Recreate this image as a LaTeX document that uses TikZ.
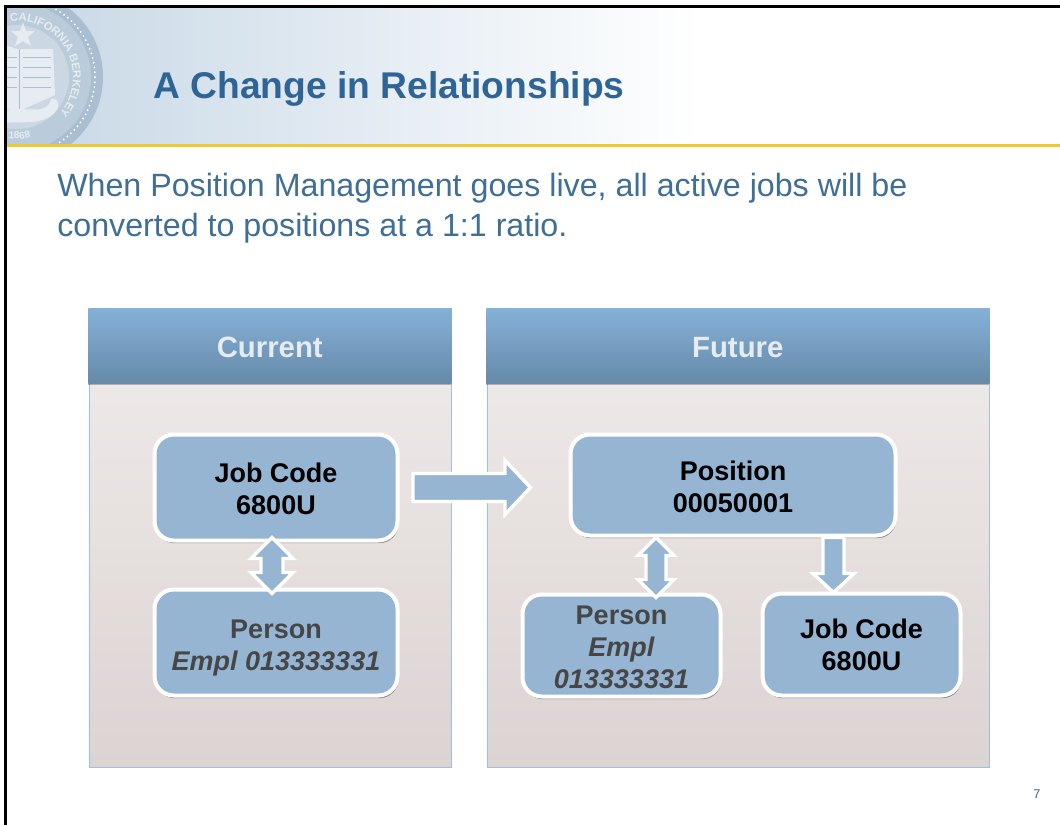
\documentclass[tikz,border=0pt]{standalone}
\usepackage{fontspec}
\setmainfont{Liberation Sans}
\usetikzlibrary{calc,shadows,decorations.text}
\definecolor{titleblue}{HTML}{2F6496}
\definecolor{bodyblue}{HTML}{3F6E96}
\definecolor{boxblue}{HTML}{95B5D3}
\definecolor{rule}{HTML}{F0C92E}
\definecolor{panelline}{HTML}{9CC0DD}
\definecolor{greytext}{HTML}{464646}
\definecolor{sealring}{HTML}{A9BED0}
\definecolor{sealpale}{HTML}{E6ECF2}
\definecolor{HeadTop}{HTML}{85B1D8}
\definecolor{HeadBot}{HTML}{668AA8}
\definecolor{PanelTop}{HTML}{F0EDEB}
\definecolor{PanelBot}{HTML}{DCD3D3}
\definecolor{HeaderL}{HTML}{C6D7E5}
\tikzset{
  panelhead/.style={rectangle,anchor=north west,inner sep=0pt,top color=HeadTop,bottom color=HeadBot,draw=none,
    font=\fontsize{22}{26}\selectfont\bfseries,text=sealpale,
    drop shadow={shadow xshift=0pt,shadow yshift=-1.2pt,fill=black,opacity=.25}},
  panelbody/.style={rectangle,anchor=north west,inner sep=0pt,top color=PanelTop,bottom color=PanelBot,draw=panelline,line width=.6pt},
  infobox/.style={rectangle,rounded corners=14.5pt,fill=boxblue,draw=white,line width=3pt,inner sep=0pt,align=center,
    font=\fontsize{20.25}{24}\selectfont\bfseries,
    drop shadow={shadow xshift=.8pt,shadow yshift=-2pt,fill=black,opacity=.4}},
  blockarrow/.style={fill=boxblue,draw=white,line width=2.6pt,miter limit=10,line join=miter},
}
\begin{document}
\begin{tikzpicture}[x=.75pt,y=-.75pt]
\useasboundingbox (0,0) rectangle (1060,825);
\fill[white] (0,0) rectangle (1060,825);
% banner
\shade[left color=HeaderL,right color=white] (7,8) rectangle (700,143);
% seal
\begin{scope}
\clip (7,8) rectangle (140,143);
\begin{scope}[shift={(17,77)},x=.75pt,y=.75pt]
  \fill[sealring] (0,0) circle (86);
  \fill[sealring!80!white] (0,0) circle (74);
  \draw[white,line width=1.6pt,line cap=round,dash pattern=on 0pt off 3.6pt] (0,0) circle (78);
  \fill[sealring!60!white] (0,0) circle (52);
  \path[decorate,decoration={text along path,text align=left,text color=sealpale,
     text={|\fontsize{8.5}{9}\selectfont\bfseries|CALIFORNIA\ BERKELEY}}] (97:56) arc (97:-50:56);
  \path[decorate,decoration={text along path,text align=left,text color=sealpale,
     text={|\fontsize{7.5}{8}\selectfont\bfseries|1868}}] (-98:62) arc (-98:-68:62);
  \fill[sealpale] (-12,32) -- (0,28) -- (36,28) -- (38,-18) -- (2,-34) -- (-12,-32) -- cycle;
  \draw[sealring,line width=.4pt] (2,28) -- (2,-32) (-10,20) -- (0,20) (-10,10) -- (0,10) (-10,0) -- (0,0) (-10,-10) -- (0,-10)
    (6,20) -- (34,20) (6,10) -- (34,10) (6,0) -- (34,0) (6,-10) -- (34,-10);
  \fill[sealpale] (6,55) -- (9,46) -- (18,46) -- (11,40) -- (14,31) -- (6,36) -- (-2,31) -- (1,40) -- (-6,46) -- (3,46) -- cycle;
  \fill[sealpale] (-12,-34) .. controls (10,-28) and (30,-40) .. (34,-22) .. controls (44,-20) and (44,-34) .. (32,-40) .. controls (20,-48) and (0,-44) .. (-12,-46) -- cycle;
\end{scope}
\end{scope}
% frame and rule
\fill[rule] (7,143.5) rectangle (1060,146.5);
\draw[black,line width=1.6pt] (5.5,825) -- (5.5,6.5) -- (1060,6.5);
% title and body text
\node[anchor=base west,inner sep=0pt,text=titleblue,font=\fontsize{27.9}{32}\selectfont\bfseries] (title) at (153,98) {A Change in Relationships};
\node[anchor=base west,inner sep=0pt,text=bodyblue,font=\fontsize{24.15}{30}\selectfont,align=left] (intro) at (57,236)
  {When Position Management goes live, all active jobs will be\\converted to positions at a 1:1 ratio.};
% panels
\node[panelbody,minimum width=362.5*.75pt,minimum height=458.5*.75pt] (leftpanel) at (88.5,308) {};
\node[panelbody,minimum width=502.5*.75pt,minimum height=458.5*.75pt] (rightpanel) at (486.5,308) {};
\node[panelhead,minimum width=363*.75pt,minimum height=75*.75pt] (current) at (88,308) {\rule{0pt}{18.5pt}Current};
\node[panelhead,minimum width=503*.75pt,minimum height=75*.75pt] (future) at (486,308) {\rule{0pt}{18.5pt}Future};
% boxes
\node[infobox,minimum width=243*.75pt,minimum height=106*.75pt] (curjob) at (276,487.5) {\rule{0pt}{16.5pt}Job Code\\6800U};
\node[infobox,minimum width=243*.75pt,minimum height=106*.75pt,text=greytext] (curperson) at (276,642.5) {\rule{0pt}{22pt}Person\\\textit{Empl 013333331}};
\node[infobox,minimum width=325*.75pt,minimum height=101*.75pt] (position) at (733,485) {\rule{0pt}{18pt}Position\\00050001};
\node[infobox,minimum width=198*.75pt,minimum height=102*.75pt,text=greytext] (futperson) at (621.5,645.5) {\rule{0pt}{16pt}Person\\\textit{Empl}\\\textit{013333331}};
\node[infobox,minimum width=198*.75pt,minimum height=102*.75pt] (futjob) at (861.5,644.5) {Job Code\\6800U};
% block arrows
\draw[blockarrow] ($(curjob.east)+(13.5,-14)$) -- ++(92,0) -- ++(0,-13) -- ++(25.5,27) -- ++(-25.5,27) -- ++(0,-13) -- ++(-92,0) -- cycle;
\draw[blockarrow] ($(curjob.south)+(-4,-5)$) -- ++(21,21) -- ++(-10,0) -- ++(0,14) -- ++(10,0) -- ++(-21,21) -- ++(-21,-21) -- ++(10,0) -- ++(0,-14) -- ++(-10,0) -- cycle;
\draw[blockarrow] ($(position.south)+(-77,0)$) -- ++(18,18) -- ++(-8,0) -- ++(0,24) -- ++(8,0) -- ++(-18,18) -- ++(-18,-18) -- ++(8,0) -- ++(0,-24) -- ++(-8,0) -- cycle;
\draw[blockarrow] ($(position.south)+(90,0)$) -- ++(21,0) -- ++(0,36) -- ++(10,0) -- ++(-20.5,19) -- ++(-20.5,-19) -- ++(10,0) -- cycle;
% page number
\node[anchor=base,inner sep=0pt,text=titleblue,font=\fontsize{9.5}{11}\selectfont] (pageno) at (1037,798) {7};
\end{tikzpicture}
\end{document}
